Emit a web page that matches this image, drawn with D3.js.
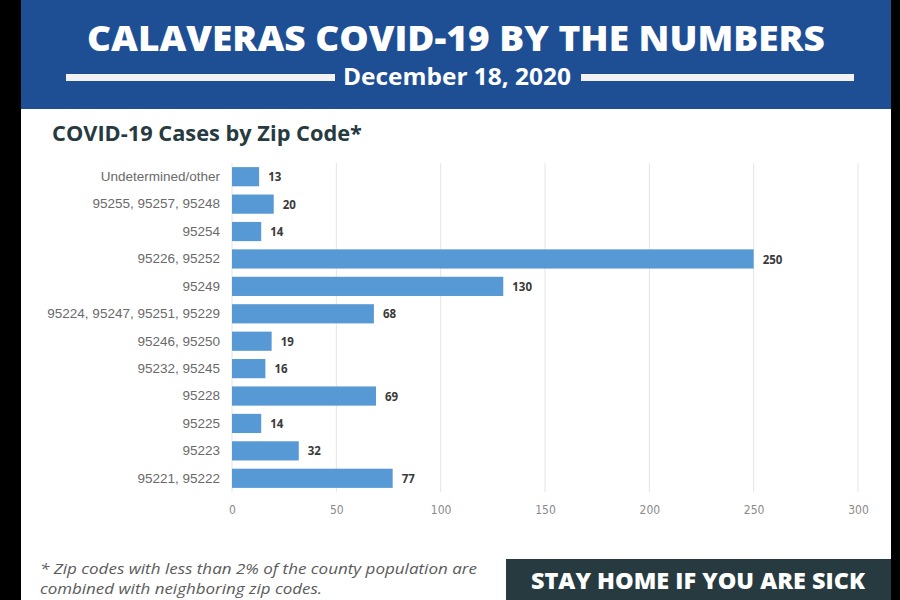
<!DOCTYPE html>
<html>
<head>
<meta charset="utf-8">
<script src="https://cdn.jsdelivr.net/npm/d3@7"></script>
<style>
  html, body { margin: 0; padding: 0; background: #000; }
  svg { display: block; }
</style>
</head>
<body>
<div id="chart"></div>
<script>
// ── Data ──────────────────────────────────────────────────────────────────
const zipCodes = [
  'Undetermined/other',
  '95255, 95257, 95248',
  '95254',
  '95226, 95252',
  '95249',
  '95224, 95247, 95251, 95229',
  '95246, 95250',
  '95232, 95245',
  '95228',
  '95225',
  '95223',
  '95221, 95222',
];
const cases = [13, 20, 14, 250, 130, 68, 19, 16, 69, 14, 32, 77];
const xTicks = [0, 50, 100, 150, 200, 250, 300];

const TITLE    = 'CALAVERAS COVID-19 BY THE NUMBERS';
const DATE     = 'December 18, 2020';
const SUBTITLE = 'COVID-19 Cases by Zip Code*';
const NOTE     = ['* Zip codes with less than 2% of the county population are',
                  'combined with neighboring zip codes.'];
const BANNER   = 'STAY HOME IF YOU ARE SICK';

const HEADER_BLUE = '#1e4f95';
const BAR_BLUE    = '#5699d5';
const DARK        = '#263a40';

const width = 900, height = 600;

const svg = d3.select('#chart').append('svg')
  .attr('width', width).attr('height', height);

// Page background: black frame, white card
svg.append('rect').attr('width', width).attr('height', height).attr('fill', '#000');
svg.append('rect')
  .attr('x', 21).attr('y', 0).attr('width', 870).attr('height', height)
  .attr('fill', '#fff');

// ── Header ────────────────────────────────────────────────────────────────
svg.append('rect')
  .attr('x', 21).attr('y', 0).attr('width', 870).attr('height', 109)
  .attr('fill', HEADER_BLUE);

svg.append('text')
  .attr('x', 456).attr('y', 51)
  .attr('text-anchor', 'middle')
  .attr('font-family', 'Open Sans, sans-serif')
  .attr('font-weight', 800)
  .attr('font-size', 36)
  .attr('textLength', 738)
  .attr('lengthAdjust', 'spacingAndGlyphs')
  .attr('fill', '#fff')
  .text(TITLE);

svg.append('text')
  .attr('x', 457).attr('y', 85)
  .attr('text-anchor', 'middle')
  .attr('font-family', 'Open Sans, sans-serif')
  .attr('font-weight', 700)
  .attr('font-size', 23)
  .attr('textLength', 228)
  .attr('lengthAdjust', 'spacingAndGlyphs')
  .attr('fill', '#fff')
  .text(DATE);

[[66, 335], [581, 854]].forEach(([x1, x2]) => {
  svg.append('rect')
    .attr('x', x1).attr('y', 74).attr('width', x2 - x1).attr('height', 7)
    .attr('fill', '#f2f2f4');
});

svg.append('text')
  .attr('x', 52).attr('y', 141)
  .attr('font-family', 'Open Sans, sans-serif')
  .attr('font-weight', 700)
  .attr('font-size', 21)
  .attr('textLength', 310)
  .attr('lengthAdjust', 'spacingAndGlyphs')
  .attr('fill', DARK)
  .text(SUBTITLE);

// ── Bar chart ─────────────────────────────────────────────────────────────
const x = d3.scaleLinear().domain([0, 300]).range([232, 858]);
const y = d3.scaleBand().domain(zipCodes).range([163, 492])
  .paddingInner(0.3).paddingOuter(0.15);

const g = svg.append('g');

// Gridlines
g.selectAll('.grid')
  .data(xTicks)
  .join('line')
  .attr('class', 'grid')
  .attr('x1', d => x(d)).attr('x2', d => x(d))
  .attr('y1', 163).attr('y2', 492)
  .attr('stroke', '#e4e4e4').attr('stroke-width', 1);

// X axis labels
const xAxis = d3.axisBottom(x).tickValues(xTicks).tickSize(0).tickPadding(0);
g.append('g')
  .attr('transform', 'translate(0,505)')
  .call(xAxis)
  .call(a => a.select('.domain').remove())
  .call(a => a.selectAll('text')
    .attr('font-family', 'DejaVu Sans Condensed, Liberation Sans Narrow, sans-serif')
    .attr('font-size', 12)
    .attr('fill', '#8a8a8a'));

// Y axis labels
const yAxis = d3.axisLeft(y).tickSize(0).tickPadding(12);
g.append('g')
  .attr('transform', `translate(${x(0)},0)`)
  .call(yAxis)
  .call(a => a.select('.domain').remove())
  .call(a => a.selectAll('text')
    .attr('font-family', 'Liberation Sans, Arial, sans-serif')
    .attr('font-size', 13.5)
    .attr('fill', '#6a6a6a'));

// Bars
g.selectAll('.bar')
  .data(zipCodes)
  .join('rect')
  .attr('class', 'bar')
  .attr('x', x(0))
  .attr('y', d => y(d))
  .attr('width', (d, i) => x(cases[i]) - x(0))
  .attr('height', y.bandwidth())
  .attr('fill', BAR_BLUE);

// Value labels
g.selectAll('.val')
  .data(zipCodes)
  .join('text')
  .attr('class', 'val')
  .attr('x', (d, i) => x(cases[i]) + 9)
  .attr('y', d => y(d) + y.bandwidth() / 2)
  .attr('dy', '0.4em')
  .attr('font-family', 'Open Sans, sans-serif')
  .attr('font-weight', 700)
  .attr('font-size', 11.5)
  .attr('fill', '#3a3a3a')
  .text((d, i) => cases[i]);

// ── Footer ────────────────────────────────────────────────────────────────
svg.append('text')
  .attr('font-family', 'Open Sans, sans-serif')
  .attr('font-style', 'italic')
  .attr('font-size', 14.5)
  .attr('fill', '#5a5a5a')
  .selectAll('tspan')
  .data(NOTE)
  .join('tspan')
  .attr('x', 40)
  .attr('y', (d, i) => 574 + i * 20)
  .attr('textLength', (d, i) => i === 0 ? 437 : 282)
  .attr('lengthAdjust', 'spacingAndGlyphs')
  .text(d => d);

svg.append('rect')
  .attr('x', 506).attr('y', 559).attr('width', 385).attr('height', 41)
  .attr('fill', DARK);

svg.append('text')
  .attr('x', 698).attr('y', 589)
  .attr('text-anchor', 'middle')
  .attr('font-family', 'Open Sans, sans-serif')
  .attr('font-weight', 800)
  .attr('font-size', 23)
  .attr('textLength', 334)
  .attr('lengthAdjust', 'spacingAndGlyphs')
  .attr('fill', '#fff')
  .text(BANNER);
</script>
</body>
</html>
